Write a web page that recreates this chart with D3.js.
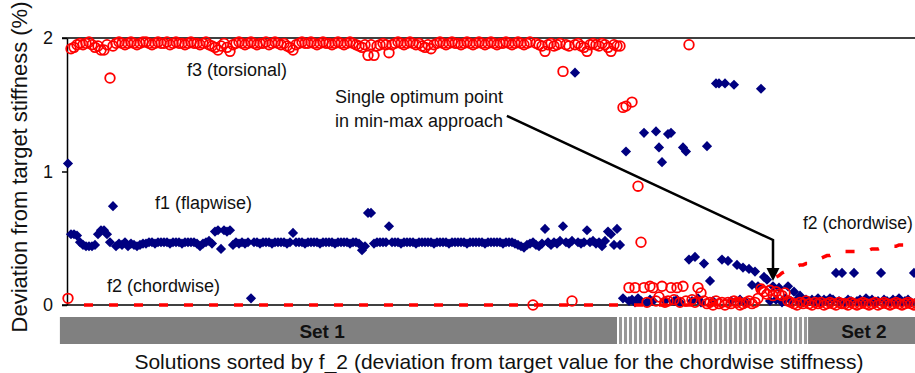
<!DOCTYPE html>
<html><head><meta charset="utf-8">
<script src="https://cdn.jsdelivr.net/npm/d3@7"></script>
<style>body{margin:0;background:#fff}svg{display:block;font-family:"Liberation Sans",Arial,sans-serif}</style>
</head><body><svg id="c" width="915" height="373"></svg>
<script>
// ---- data ----
const yTicks = [0, 1, 2];
// f1 (flapwise) deviation, one value per sorted solution
const f1 = [
1.06,0.53,0.53,0.52,0.47,0.45,0.44,0.44,0.44,0.45,
0.53,0.56,0.56,0.53,0.47,0.74,0.44,0.46,0.45,0.47,
0.44,0.46,0.45,0.44,0.45,0.46,0.46,0.47,0.47,0.46,
0.47,0.47,0.47,0.47,0.46,0.47,0.47,0.47,0.46,0.47,
0.47,0.47,0.47,0.46,0.44,0.46,0.47,0.48,0.46,0.55,
0.56,0.42,0.56,0.55,0.56,0.45,0.47,0.46,0.47,0.46,
0.47,0.05,0.47,0.47,0.46,0.47,0.47,0.47,0.46,0.47,
0.47,0.47,0.47,0.46,0.47,0.54,0.47,0.47,0.47,0.46,
0.47,0.47,0.47,0.47,0.46,0.47,0.47,0.47,0.47,0.46,
0.47,0.47,0.47,0.47,0.46,0.47,0.47,0.46,0.41,0.44,
0.69,0.69,0.46,0.47,0.47,0.47,0.47,0.59,0.47,0.47,
0.47,0.46,0.47,0.47,0.47,0.47,0.46,0.47,0.47,0.47,
0.47,0.47,0.46,0.47,0.47,0.47,0.47,0.46,0.47,0.47,
0.47,0.47,0.47,0.46,0.47,0.47,0.47,0.47,0.47,0.46,
0.47,0.47,0.47,0.47,0.47,0.46,0.47,0.47,0.47,0.46,
0.45,0.44,0.43,0.45,0.46,0.47,0.45,0.44,0.46,0.57,
0.47,0.45,0.47,0.46,0.48,0.59,0.47,0.46,0.48,1.74,
0.47,0.46,0.47,0.56,0.47,0.48,0.46,0.47,0.44,0.48,
0.55,0.53,0.45,0.57,
0.45,0.05,1.15,0.03,0.04,0.02,0.05,0.03,1.29,0.02,
0.04,0.03,1.30,1.18,1.07,0.03,1.28,1.29,0.03,0.04,
0.02,1.18,1.15,0.34,0.03,0.36,0.05,0.02,0.31,1.19,
0.18,0.03,1.66,1.66,0.34,1.66,0.33,0.03,1.65,0.30,
0.04,0.28,0.02,0.27,0.15,0.25,0.14,1.62,0.21,0.19,
0.03,0.14,0.04,0.13,0.02,0.05,0.14,0.03,0.10,0.04,
0.07,0.02,0.04,0.03,
0.04,0.03,0.05,0.02,0.04,0.03,0.05,0.04,0.24,0.03,
0.24,0.02,0.04,0.03,0.24,0.03,0.04,0.02,0.05,0.03,
0.04,0.02,0.03,0.24,0.04,0.03,0.02,0.04,0.03,0.05,
0.02,0.03,0.04,0.02,0.24,0.03,0.04
];
// f2 (chordwise) deviation - the sorting key
const f2 = [
0,0,0,0,0,0,0,0,0,0,0,0,0,0,0,0,0,0,0,0,
0,0,0,0,0,0,0,0,0,0,0,0,0,0,0,0,0,0,0,0,
0,0,0,0,0,0,0,0,0,0,0,0,0,0,0,0,0,0,0,0,
0,0,0,0,0,0,0,0,0,0,0,0,0,0,0,0,0,0,0,0,
0,0,0,0,0,0,0,0,0,0,0,0,0,0,0,0,0,0,0,0,
0,0,0,0,0,0,0,0,0,0,0,0,0,0,0,0,0,0,0,0,
0,0,0,0,0,0,0,0,0,0,0,0,0,0,0,0,0,0,0,0,
0,0,0,0,0,0,0,0,0,0,0,0,0,0,0,0,0,0,0,0,
0,0,0,0,0,0,0,0,0,0,0,0,0,0,0,0,0,0,0,0,
0,0,0,0,0,0,0,0,0,0,0,0,0,0,0,0,0,0,0,0,
0,0,0,0,0,0,0,0,0,0,0,0,0,0,0,
0.01,0.01,0.02,0.02,0.03,0.03,0.04,0.04,0.045,0.05,
0.06,0.07,0.08,0.09,0.10,0.11,0.13,0.14,0.16,0.18,
0.19,0.21,0.22,0.24,0.25,0.26,0.27,0.28,0.29,0.30,
0.30,0.31,0.31,0.32,0.33,0.34,0.35,0.36,0.37,0.37,
0.38,0.39,0.39,0.39,0.40,0.40,0.40,0.40,0.40,0.40,
0.41,0.41,0.41,0.42,0.42,0.42,0.43,0.43,0.43,0.44,
0.44,0.44,0.45,0.45,0.45,0.46,0.46,0.46,0.47,0.47
];
// f3 (torsional) deviation
const f3 = [
0.05,1.92,1.93,1.95,1.96,1.95,1.96,1.97,1.95,1.93,
1.94,1.91,1.91,1.95,1.70,1.94,1.96,1.97,1.96,1.95,
1.96,1.97,1.96,1.95,1.96,1.97,1.97,1.96,1.95,1.96,
1.97,1.96,1.96,1.97,1.95,1.96,1.97,1.96,1.96,1.95,
1.96,1.97,1.96,1.96,1.95,1.96,1.97,1.95,1.94,1.93,
1.91,1.94,1.96,1.93,1.90,1.95,1.96,1.97,1.96,1.95,
1.96,1.97,1.96,1.95,1.96,1.96,1.97,1.95,1.96,1.97,
1.96,1.95,1.96,1.94,1.93,1.91,1.95,1.96,1.97,1.96,
1.96,1.97,1.96,1.95,1.96,1.97,1.96,1.96,1.95,1.96,
1.97,1.96,1.95,1.96,1.97,1.96,1.95,1.94,1.93,1.95,
1.87,1.95,1.87,1.94,1.95,1.96,1.95,1.89,1.95,1.96,
1.97,1.96,1.95,1.96,1.97,1.96,1.95,1.96,1.94,1.93,
1.95,1.92,1.95,1.96,1.97,1.96,1.95,1.96,1.97,1.96,
1.96,1.95,1.96,1.97,1.96,1.95,1.96,1.97,1.96,1.95,
1.96,1.97,1.96,1.95,1.96,1.96,1.97,1.96,1.95,1.96,
1.97,1.96,1.95,1.96,1.97,0.00,1.96,1.95,1.94,1.90,
1.95,1.96,1.94,1.95,1.96,1.75,1.95,1.94,0.03,1.95,
1.96,1.94,1.93,1.90,1.95,1.96,1.95,1.94,1.96,1.95,
1.93,1.90,1.95,1.94,
1.94,1.48,1.49,0.13,1.52,0.13,0.89,0.47,0.13,0.02,
0.14,0.13,0.03,0.06,0.14,0.02,0.03,0.13,0.04,0.13,
0.02,0.14,0.03,1.95,0.04,0.02,0.13,0.09,0.03,0.01,
0.02,0.00,0.03,0.01,0.02,0.00,0.02,0.01,0.03,0.02,
0.00,0.01,0.02,0.03,0.01,0.02,0.05,0.12,0.10,0.08,
0.11,0.07,0.10,0.08,0.07,0.09,0.03,
0.02,0.01,0.00,0.02,0.01,0.03,0.01,0.00,0.02,0.01,
0.02,0.00,0.01,0.02,0.01,0.00,0.02,0.01,0.01,0.00,
0.02,0.01,0.00,0.01,0.02,0.01,0.00,0.01,0.02,0.00,
0.01,0.02,0.01,0.00,0.01,0.02,0.01,0.00,0.01,0.02,
0.01,0.00,0.01,0.02
];
// solution sets along the sorted axis (index ranges)
const setNames = ["Set 1", "", "Set 2"];
const setFrom = [-2.7, 183, 246.7];
const setTo = [183, 246.7, 290];
const setLabelAt = [84.7, null, 265.3];
const seriesLabels = ["f3 (torsional)", "f1 (flapwise)", "f2 (chordwise)", "f2 (chordwise)"];
const seriesLabelX = [56.3, 29, 13, 245];
const seriesLabelY = [1.715, 0.72, 0.097, 0.57];
const noteLines = ["Single optimum point", "in min-max approach"];
const noteX = 117, noteY = [1.513, 1.333];
const arrowPts = [[146.3, 1.416], [235, 0.487], [235, 0.18]];
const yTitle = "Deviation from target stiffness (%)";
const xTitle = "Solutions sorted by f_2 (deviation from target value for the chordwise stiffness)";

// ---- chart ----
const svg = d3.select("#c");
const x = d3.scaleLinear().domain([0, 284]).range([68, 920]);
const y = d3.scaleLinear().domain([0, 2]).range([305, 38]);
const RED = "#ff0000", NAVY = "#000080";

// bottom set band
const defs = svg.append("defs");
const pat = defs.append("pattern").attr("id", "stripes").attr("patternUnits", "userSpaceOnUse")
  .attr("x", x(183)).attr("width", 5).attr("height", 10);
pat.append("rect").attr("width", 5).attr("height", 10).attr("fill", "#999");
pat.append("rect").attr("width", 2).attr("height", 10).attr("fill", "#fff");
const band = svg.append("g");
setNames.forEach((n, k) => {
  band.append("rect").attr("x", x(setFrom[k])).attr("y", 317)
    .attr("width", x(setTo[k]) - x(setFrom[k])).attr("height", 27)
    .attr("fill", n ? "#808080" : "url(#stripes)");
  if (n) band.append("text").attr("x", x(setLabelAt[k])).attr("y", 338)
    .attr("text-anchor", "middle").attr("font-weight", "bold").attr("font-size", 19)
    .attr("fill", "#111").text(n);
});

// axes lines
svg.append("line").attr("x1", 62).attr("x2", 915).attr("y1", y(2)).attr("y2", y(2))
  .attr("stroke", "#000").attr("stroke-width", 1.5);
svg.append("line").attr("x1", 62).attr("x2", 915).attr("y1", y(0)).attr("y2", y(0))
  .attr("stroke", "#000").attr("stroke-width", 1.5);
const ya = svg.append("g").attr("transform", "translate(67,0)")
  .call(d3.axisLeft(y).tickValues(yTicks).tickSize(5).tickSizeOuter(0).tickPadding(9).tickFormat(d3.format("d")));
ya.select(".domain").attr("stroke", "#000").attr("stroke-width", 1.5);
ya.selectAll(".tick line").attr("stroke", "#000").attr("stroke-width", 1.5);
ya.selectAll(".tick text").attr("font-size", 18).attr("font-family", "Liberation Sans, Arial, sans-serif").attr("fill", "#111");

// f1 diamonds
const diamond = d3.symbol(d3.symbolSquare, 52);
svg.append("g").selectAll("path").data(f1).join("path")
  .attr("d", diamond)
  .attr("transform", (d, i) => `translate(${x(i)},${y(d)}) rotate(45)`)
  .attr("fill", NAVY);

// f3 circles
svg.append("g").selectAll("circle").data(f3).join("circle")
  .attr("cx", (d, i) => x(i)).attr("cy", d => y(d)).attr("r", 4.8)
  .attr("fill", "none").attr("stroke", RED).attr("stroke-width", 1.8);

// f2 dashed line
svg.append("path").datum(f2)
  .attr("d", d3.line().x((d, i) => x(i)).y(d => y(d)))
  .attr("fill", "none").attr("stroke", RED).attr("stroke-width", 3.5)
  .attr("stroke-dasharray", "9,16").attr("stroke-dashoffset", 9);

// series labels
seriesLabels.forEach((t, k) => {
  svg.append("text").attr("x", x(seriesLabelX[k])).attr("y", y(seriesLabelY[k]))
    .attr("font-size", k === 3 ? 17.5 : 18).attr("fill", "#111")
    .attr("text-anchor", k === 0 ? "middle" : "start").text(t);
});

// annotation
noteLines.forEach((t, k) => {
  svg.append("text").attr("x", x(noteX)).attr("y", y(noteY[k]))
    .attr("text-anchor", "middle").attr("font-size", 18).attr("fill", "#111").text(t);
});
const tip = arrowPts[arrowPts.length - 1];
svg.append("path")
  .attr("d", d3.line().x(p => x(p[0])).y(p => y(p[1]))(arrowPts.slice(0, 2).concat([[tip[0], y.invert(y(tip[1]) - 11)]])))
  .attr("fill", "none").attr("stroke", "#000").attr("stroke-width", 2.5);
const tx = x(tip[0]), ty = y(tip[1]);
svg.append("path").attr("d", `M${tx},${ty}L${tx - 6.5},${ty - 13}L${tx + 6.5},${ty - 13}Z`).attr("fill", "#000");

// titles
svg.append("text").attr("transform", "translate(27,167) rotate(-90)")
  .attr("text-anchor", "middle").attr("font-size", 22).attr("fill", "#111").text(yTitle);
svg.append("text").attr("x", 499).attr("y", 369)
  .attr("text-anchor", "middle").attr("font-size", 21).attr("fill", "#111").text(xTitle);
</script></body></html>
